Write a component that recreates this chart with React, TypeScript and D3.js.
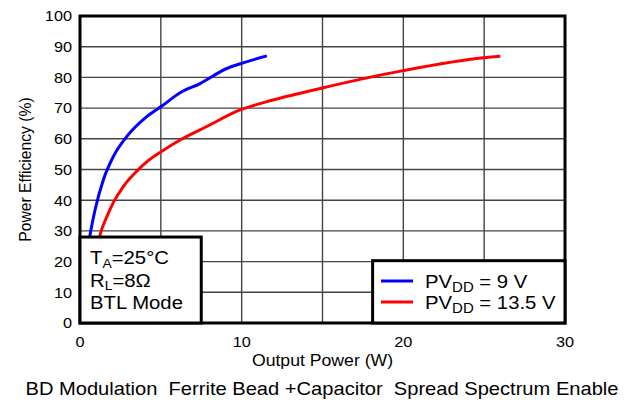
import { useEffect, type ReactNode } from "react";
import * as d3 from "d3";

// Output power (W) vs efficiency (%)
const blueX = [0.3, 0.62, 0.93, 1.44, 2.06, 2.89, 4.13, 5.02, 6.19, 7.43, 9.08, 10.0, 11.56];
const blueY = [18, 28.7, 36.8, 46.6, 54.2, 60.7, 67.2, 70.5, 75, 78, 82.9, 84.6, 87];
const redX = [0.9, 1.24, 1.69, 2.1, 2.7, 3.5, 4.2, 5.02, 6.19, 7.84, 9.9, 11.56, 14.86, 19.98, 24.95, 26.0];
const redY = [20, 28.7, 35, 39.6, 44.6, 49.4, 52.8, 55.8, 59.6, 64, 69.4, 72.1, 76.4, 82.2, 86.4, 86.9];
const xTicks = [0, 10, 20, 30];
const xGrid = [5, 10, 15, 20, 25];
const yTicks = [0, 10, 20, 30, 40, 50, 60, 70, 80, 90, 100];
const seriesNames = ["9 V", "13.5 V"];
const seriesColors = ["#0000ff", "#ff0000"];

const W = 631;
const H = 400;
const M = { left: 80, right: 66, top: 16, bottom: 77 };
const FONT = "'Liberation Sans', Arial, sans-serif";

// text stretched a little horizontally, like the source image
function T({ x, y, sx = 1.07, size, anchor = "start", children }: {
  x: number; y: number; sx?: number; size: number; anchor?: string; children: ReactNode;
}) {
  return (
    <g transform={`translate(${x},${y}) scale(${sx},1)`}>
      <text fontSize={size} textAnchor={anchor} fill="#000">{children}</text>
    </g>
  );
}

export default function App() {
  useEffect(() => {
    document.body.style.margin = "0";
  }, []);

  const x = d3.scaleLinear().domain([0, 30]).range([M.left, W - M.right]);
  const y = d3.scaleLinear().domain([0, 100]).range([H - M.bottom, M.top]);
  const line = d3
    .line<[number, number]>()
    .x((d) => x(d[0]))
    .y((d) => y(d[1]))
    .curve(d3.curveMonotoneX);

  const series = [
    blueX.map((v, i) => [v, blueY[i]] as [number, number]),
    redX.map((v, i) => [v, redY[i]] as [number, number]),
  ];

  const legX = x(18.1);
  const legY = y(20.3);

  return (
    <svg width={W} height={H} style={{ display: "block", background: "#fff" }} fontFamily={FONT}>
      {/* grid */}
      {xGrid.map((t) => (
        <line key={"gx" + t} x1={x(t)} x2={x(t)} y1={y(0)} y2={y(100)} stroke="#444" strokeWidth={1.4} />
      ))}
      {yTicks.slice(1, -1).map((t) => (
        <line key={"gy" + t} x1={x(0)} x2={x(30)} y1={y(t)} y2={y(t)} stroke="#444" strokeWidth={1.4} />
      ))}

      {/* curves */}
      {series.map((s, i) => (
        <path key={i} d={line(s) ?? ""} fill="none" stroke={seriesColors[i]} strokeWidth={3} />
      ))}

      {/* frame */}
      <rect x={x(0)} y={y(100)} width={x(30) - x(0)} height={y(0) - y(100)} fill="none" stroke="#000" strokeWidth={3} />

      {/* y ticks */}
      {yTicks.map((t) => (
        <T key={"ty" + t} x={72} y={y(t) + 5.3} sx={1.05} size={15.5} anchor="end">{t}</T>
      ))}
      {/* x ticks */}
      {xTicks.map((t) => (
        <T key={"tx" + t} x={x(t)} y={347} sx={1.05} size={15.5} anchor="middle">{t}</T>
      ))}

      <T x={x(15)} y={366} size={16.5} anchor="middle">Output Power (W)</T>
      <text transform={`translate(31,${y(50)}) rotate(-90)`} textAnchor="middle" fontSize={15.7}>
        Power Efficiency (%)
      </text>

      {/* conditions box */}
      <rect x={x(0)} y={y(28)} width={x(7.5) - x(0)} height={y(0) - y(28)} fill="#fff" stroke="#000" strokeWidth={3} />
      <T x={90} y={264} size={19}>
        T<tspan fontSize={13} dy={4}>A</tspan>
        <tspan dy={-4}>=25°C</tspan>
      </T>
      <T x={90} y={287} size={19}>
        R<tspan fontSize={13} dy={3}>L</tspan>
        <tspan dy={-3}>=8Ω</tspan>
      </T>
      <T x={90} y={309} size={19}>BTL Mode</T>

      {/* legend */}
      <rect x={legX} y={legY} width={x(30) - legX} height={y(0) - legY} fill="#fff" stroke="#000" strokeWidth={3} />
      {seriesNames.map((n, i) => (
        <g key={n}>
          <line x1={381} x2={413} y1={281 + i * 21} y2={281 + i * 21} stroke={seriesColors[i]} strokeWidth={3} />
          <T x={425} y={288 + i * 21} size={19}>
            PV<tspan fontSize={14} dy={4}>DD</tspan>
            <tspan dy={-4}> = {n}</tspan>
          </T>
        </g>
      ))}

      <T x={322} y={395} sx={1.15} size={17.5} anchor="middle">
        BD Modulation{"\u00a0\u00a0"}Ferrite Bead +Capacitor{"\u00a0\u00a0"}Spread Spectrum Enable
      </T>
    </svg>
  );
}
